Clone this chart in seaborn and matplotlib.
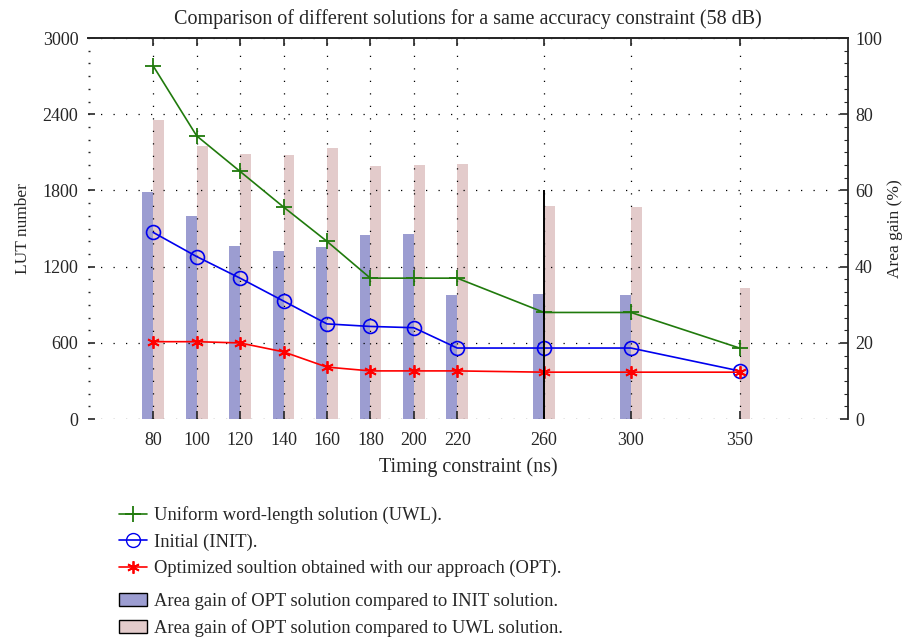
import matplotlib
matplotlib.use("Agg")
import matplotlib.pyplot as plt
import numpy as np
import pandas as pd
import seaborn as sns
from matplotlib.lines import Line2D
from matplotlib.patches import Patch
from matplotlib.ticker import MultipleLocator

# timing constraints (ns)
timing = [80, 100, 120, 140, 160, 180, 200, 220, 260, 300, 350]

# LUT numbers
uwl_lut = [2780, 2230, 1950, 1670, 1400, 1110, 1110, 1110, 840, 840, 560]
init_lut = [1470, 1280, 1110, 930, 750, 730, 720, 560, 560, 560, 380]
opt_lut = [610, 610, 600, 530, 410, 380, 380, 380, 370, 370, 370]

# area gains (%)
gain_vs_init = [59.6, 53.3, 45.4, 44.1, 45.1, 48.3, 48.6, 32.5, 32.8, 32.5, 0]
gain_vs_uwl = [78.5, 71.7, 69.6, 69.3, 71.1, 66.4, 66.7, 66.9, 55.9, 55.6, 34.4]

# stray black line in the original figure
ref_line_x = 260
ref_line_top = 1800

sns.set_style("ticks")
plt.rcParams['font.family'] = ['Liberation Serif', 'DejaVu Serif']
plt.rcParams['font.size'] = 13

df = pd.DataFrame({"timing": timing, "UWL": uwl_lut, "INIT": init_lut, "OPT": opt_lut})

fig = plt.figure(figsize=(9.08, 6.39), dpi=100)
ax = fig.add_axes([0.097, 0.344, 0.837, 0.5965])
ax2 = ax.twinx()
ax.set_zorder(ax2.get_zorder() + 1)
ax.patch.set_visible(False)

green = '#207a0c'
blue = '#0000ee'
red = '#ff0000'
bar_blue = '#9c9dd1'
bar_pink = '#e3cbcb'
asterisk = (6, 2, 0)

bar_w = 5
ax2.bar(np.array(timing) - bar_w / 2, gain_vs_init, width=bar_w, color=bar_blue, linewidth=0)
ax2.bar(np.array(timing) + bar_w / 2, gain_vs_uwl, width=bar_w, color=bar_pink, linewidth=0)

sns.lineplot(data=df, x="timing", y="UWL", ax=ax, color=green, marker='+', markersize=11,
             markeredgecolor=green, markeredgewidth=1.3, linewidth=1.2)
sns.lineplot(data=df, x="timing", y="INIT", ax=ax, color=blue, marker='o', markersize=10,
             markerfacecolor='none', markeredgecolor=blue, markeredgewidth=1.2, linewidth=1.2)
sns.lineplot(data=df, x="timing", y="OPT", ax=ax, color=red, marker=asterisk, markersize=9,
             markeredgecolor=red, markeredgewidth=1.3, linewidth=1.2)

ax.vlines(ref_line_x, 0, ref_line_top, color='black', linewidth=1.4)

ax.set_xlim(50, 400)
ax.set_ylim(0, 3000)
ax2.set_ylim(0, 100)
ax.set_xticks(timing)
ax.set_yticks(range(0, 3001, 600))
ax.yaxis.set_minor_locator(MultipleLocator(100))
ax2.set_yticks(range(0, 101, 20))
ax2.yaxis.set_minor_locator(MultipleLocator(100 / 30))

ax.grid(True, which='major', color='black', linestyle=(0, (1, 9)), linewidth=0.9)
ax.tick_params(axis='both', which='both', direction='in', top=True, labelsize=13)
ax.tick_params(axis='x', which='major', length=6, width=1.2, pad=9)
ax.tick_params(axis='y', which='major', length=5, width=1.2, pad=7)
ax.tick_params(axis='y', which='minor', length=1.5, width=1)
ax2.tick_params(axis='y', which='both', direction='in', labelsize=13, pad=5)
ax2.tick_params(which='major', length=6, width=1.2)
ax2.tick_params(which='minor', length=3, width=0.8)
for a in (ax, ax2):
    a.spines['top'].set_visible(True)
    a.spines['top'].set_linewidth(1.3)
    a.spines['left'].set_visible(False)
    a.spines['bottom'].set_visible(False)
ax.spines['right'].set_visible(False)
ax2.spines['right'].set_visible(True)
ax2.spines['right'].set_linewidth(1.3)

ax.set_xlabel("Timing constraint (ns)", fontsize=14.5, labelpad=6)
ax.set_ylabel("LUT number", fontsize=12.5, labelpad=8)
ax2.set_ylabel("Area gain (%)", fontsize=12.5, labelpad=4)
ax.set_title("Comparison of different solutions for a same accuracy constraint (58 dB)",
             fontsize=14.5, pad=10)

line_handles = [
    Line2D([], [], color=green, marker='+', markersize=11, markeredgewidth=1.3, linewidth=1.2),
    Line2D([], [], color=blue, marker='o', markersize=10, markerfacecolor='none', linewidth=1.2),
    Line2D([], [], color=red, marker=asterisk, markersize=9, markeredgewidth=1.3, linewidth=1.2),
]
line_labels = ["Uniform word-length solution (UWL).", "Initial (INIT).",
               "Optimized soultion obtained with our approach (OPT)."]
fig.legend(line_handles, line_labels, loc='upper left', bbox_to_anchor=(0.121, 0.222),
           frameon=False, fontsize=13.3, handlelength=1.5, handletextpad=0.4,
           labelspacing=0.5, borderpad=0)
bar_handles = [Patch(facecolor=bar_blue, edgecolor='black'),
               Patch(facecolor=bar_pink, edgecolor='black')]
bar_labels = ["Area gain of OPT solution compared to INIT solution.",
              "Area gain of OPT solution compared to UWL solution."]
fig.legend(bar_handles, bar_labels, loc='upper left', bbox_to_anchor=(0.121, 0.088),
           frameon=False, fontsize=13.3, handlelength=1.5, handletextpad=0.4,
           labelspacing=0.5, borderpad=0)

fig.savefig("out.png", dpi=100)
